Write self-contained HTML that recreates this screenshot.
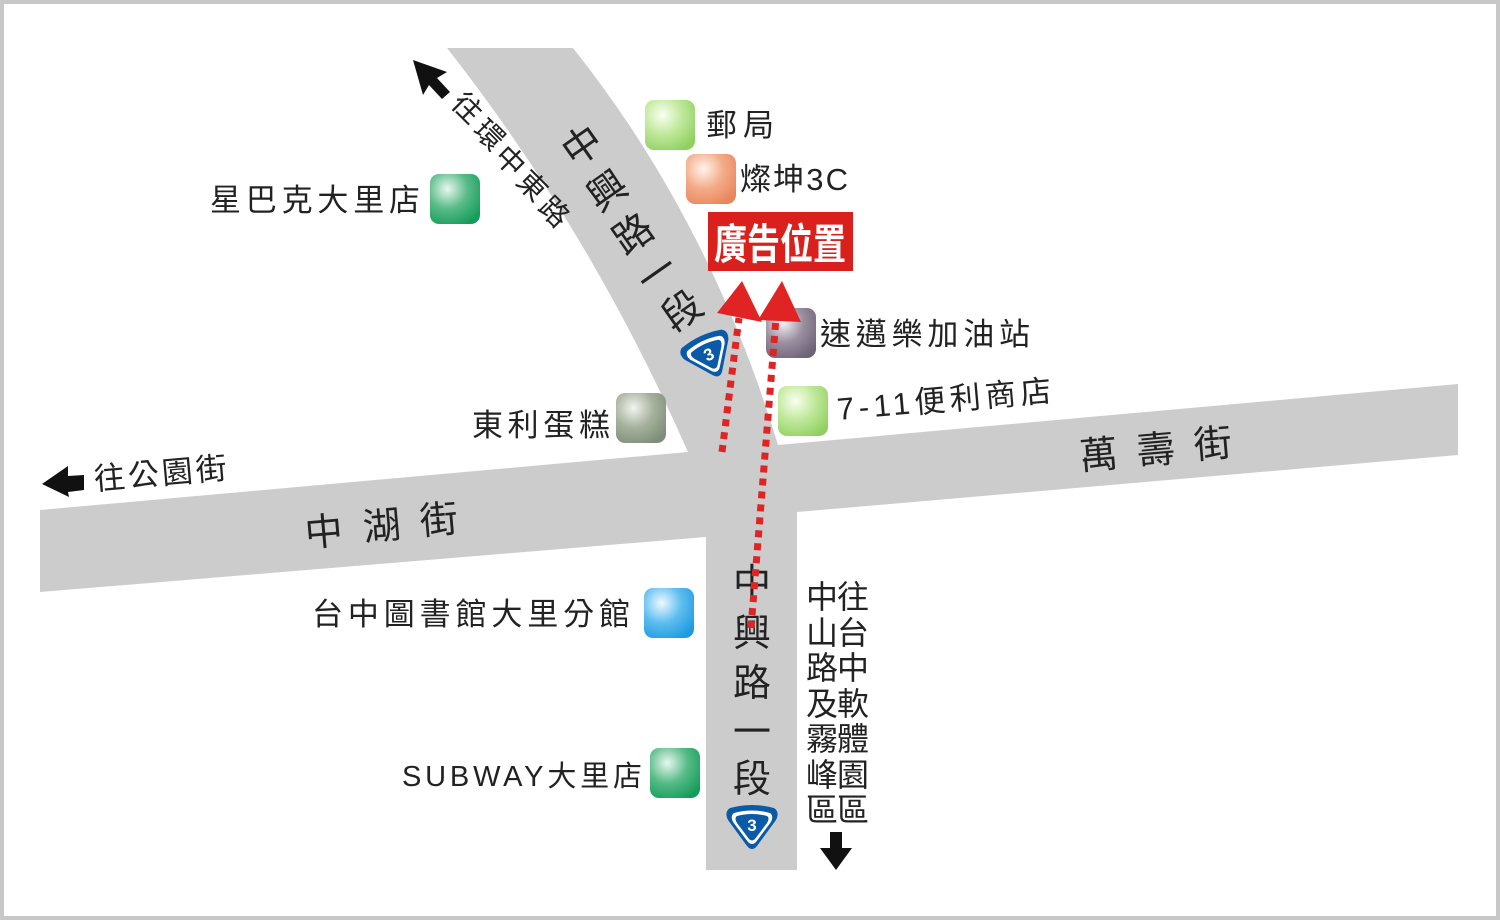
<!DOCTYPE html>
<html><head><meta charset="utf-8"><style>
html,body{margin:0;padding:0;background:#fff}
svg{display:block}
text{font-family:"Liberation Sans","Noto Sans CJK TC",sans-serif;fill:#222}
</style></head><body>
<svg width="1500" height="920" viewBox="0 0 1500 920" xmlns="http://www.w3.org/2000/svg">
<defs>
<radialGradient id="g1" cx="0.35" cy="0.3" r="0.8"><stop offset="0" stop-color="#fafff0"/><stop offset="0.5" stop-color="#bfe89a"/><stop offset="1" stop-color="#8fd060"/></radialGradient>
<radialGradient id="g2" cx="0.35" cy="0.3" r="0.8"><stop offset="0" stop-color="#fff4ec"/><stop offset="0.5" stop-color="#f4ab88"/><stop offset="1" stop-color="#e8855c"/></radialGradient>
<radialGradient id="g3" cx="0.35" cy="0.3" r="0.8"><stop offset="0" stop-color="#e8f7ee"/><stop offset="0.5" stop-color="#58bb88"/><stop offset="1" stop-color="#159c5a"/></radialGradient>
<radialGradient id="g4" cx="0.35" cy="0.3" r="0.8"><stop offset="0" stop-color="#f3f0f5"/><stop offset="0.5" stop-color="#9a8fa0"/><stop offset="1" stop-color="#6e6276"/></radialGradient>
<radialGradient id="g5" cx="0.35" cy="0.3" r="0.8"><stop offset="0" stop-color="#f2f4ee"/><stop offset="0.5" stop-color="#a5b19c"/><stop offset="1" stop-color="#7e8e78"/></radialGradient>
<radialGradient id="g6" cx="0.35" cy="0.3" r="0.8"><stop offset="0" stop-color="#eef9ff"/><stop offset="0.5" stop-color="#5fbdf0"/><stop offset="1" stop-color="#1e9ae0"/></radialGradient>
<g id="shield"><path d="M-22,-20 Q0,-26 22,-20 Q28,-16 24,-8 L5,18 Q0,24 -5,18 L-24,-8 Q-28,-16 -22,-20Z" fill="#0a5aa8"/><path d="M-18,-15 Q0,-20 18,-15 Q22,-12 19,-6 L4,14 Q0,18 -4,14 L-19,-6 Q-22,-12 -18,-15Z" fill="#fff"/><path d="M-15,-12 Q0,-16 15,-12 Q18,-10 15,-5 L3,11 Q0,14 -3,11 L-15,-5 Q-18,-10 -15,-12Z" fill="#0a5aa8"/><text x="0" y="3" font-size="17" font-weight="bold" text-anchor="middle" style="fill:#fff">3</text></g>
</defs>
<rect x="2" y="2" width="1496" height="916" fill="#fff" stroke="#c8c8c8" stroke-width="4"/>
<path d="M447,48 L573,48 Q710,220 778,445 L1458,384 L1458,455 L797,512 L797,870 L706,870 L706,537 L40,592 L40,510 L688,452 Q590,230 447,48 Z" fill="#cccccc"/>

<rect x="645" y="100" width="50" height="50" rx="9" fill="url(#g1)"/>
<rect x="686" y="154" width="50" height="50" rx="9" fill="url(#g2)"/>
<rect x="430" y="174" width="50" height="50" rx="9" fill="url(#g3)"/>
<rect x="766" y="308" width="50" height="50" rx="9" fill="url(#g4)"/>
<rect x="778" y="386" width="50" height="50" rx="9" fill="url(#g1)"/>
<rect x="616" y="393" width="50" height="50" rx="9" fill="url(#g5)"/>
<rect x="644" y="588" width="50" height="50" rx="9" fill="url(#g6)"/>
<rect x="650" y="748" width="50" height="50" rx="9" fill="url(#g3)"/>

<text x="706" y="136" font-size="31" textLength="68" lengthAdjust="spacing">郵局</text>
<text x="740" y="190" font-size="31" textLength="108" lengthAdjust="spacing">燦坤3C</text>
<text x="210" y="211" font-size="31" textLength="210" lengthAdjust="spacing">星巴克大里店</text>
<text x="820" y="345" font-size="31" textLength="210" lengthAdjust="spacing">速邁樂加油站</text>
<text x="838" y="420" font-size="31" textLength="215" lengthAdjust="spacing" transform="rotate(-5 838 420)">7-11便利商店</text>
<text x="472" y="436" font-size="31" textLength="138" lengthAdjust="spacing">東利蛋糕</text>
<text x="312" y="625" font-size="31" textLength="318" lengthAdjust="spacing">台中圖書館大里分館</text>
<text x="402" y="786" font-size="29" textLength="240" lengthAdjust="spacing">SUBWAY大里店</text>

<rect x="708" y="212" width="145" height="59" fill="#d9201c"/>
<text x="780" y="259" font-size="42" font-weight="bold" text-anchor="middle" style="fill:#fff" textLength="132" lengthAdjust="spacingAndGlyphs">廣告位置</text>

<g font-size="39">
<text transform="translate(590,157) rotate(-35)" text-anchor="middle">中</text>
<text transform="translate(615,202) rotate(-35)" text-anchor="middle">興</text>
<text transform="translate(641,245) rotate(-35)" text-anchor="middle">路</text>
<text transform="translate(665,285) rotate(-35)" text-anchor="middle">一</text>
<text transform="translate(690,322) rotate(-35)" text-anchor="middle">段</text>
</g>
<g font-size="29">
<text transform="translate(460,115) rotate(45)" text-anchor="middle">往</text>
<text transform="translate(482,142) rotate(45)" text-anchor="middle">環</text>
<text transform="translate(503,168) rotate(45)" text-anchor="middle">中</text>
<text transform="translate(525,193) rotate(45)" text-anchor="middle">東</text>
<text transform="translate(547,219) rotate(45)" text-anchor="middle">路</text>
</g>
<path d="M413,60 L447,72 L437,78 L450,92 L442,99 L429,85 L423,95 Z" fill="#111"/>

<g font-size="38">
<text x="325" y="545" text-anchor="middle" transform="rotate(-5 325 545)">中</text>
<text x="383" y="539" text-anchor="middle" transform="rotate(-5 383 539)">湖</text>
<text x="440" y="533" text-anchor="middle" transform="rotate(-5 440 533)">街</text>
<text x="1100" y="468" text-anchor="middle" transform="rotate(-5 1100 468)">萬</text>
<text x="1157" y="463" text-anchor="middle" transform="rotate(-5 1157 463)">壽</text>
<text x="1214" y="457" text-anchor="middle" transform="rotate(-5 1214 457)">街</text>
</g>
<text x="95" y="490" font-size="31" textLength="133" lengthAdjust="spacing" transform="rotate(-5 95 490)">往公園街</text>
<path d="M42,484 L68,466 L68,476 L84,475 L84,490 L68,492 L69,497 Z" fill="#111"/>

<g font-size="38" text-anchor="middle">
<text x="752" y="596">中</text>
<text x="752" y="646">興</text>
<text x="752" y="696">路</text>
<text x="752" y="745">一</text>
<text x="752" y="792">段</text>
</g>
<g font-size="32" text-anchor="middle">
<text x="822" y="608">中</text><text x="822" y="644">山</text><text x="822" y="679">路</text><text x="822" y="715">及</text><text x="822" y="750">霧</text><text x="822" y="786">峰</text><text x="822" y="821">區</text>
<text x="853" y="608">往</text><text x="853" y="644">台</text><text x="853" y="679">中</text><text x="853" y="715">軟</text><text x="853" y="750">體</text><text x="853" y="786">園</text><text x="853" y="821">區</text>
</g>
<path d="M830,832 L842,832 L842,848 L852,848 L836,870 L820,848 L830,848 Z" fill="#111"/>

<use href="#shield" transform="translate(710,357) rotate(-25)"/>
<use href="#shield" x="752" y="828"/>

<g stroke="#e02424" stroke-width="7" stroke-dasharray="7 6" fill="none">
<line x1="722" y1="452" x2="739" y2="318"/>
<line x1="751" y1="628" x2="776" y2="318"/>
</g>
<path d="M742,281 L717,313 L762,322 Z" fill="#e02424"/>
<path d="M782,281 L758,320 L801,322 Z" fill="#e02424"/>
</svg>
</body></html>
